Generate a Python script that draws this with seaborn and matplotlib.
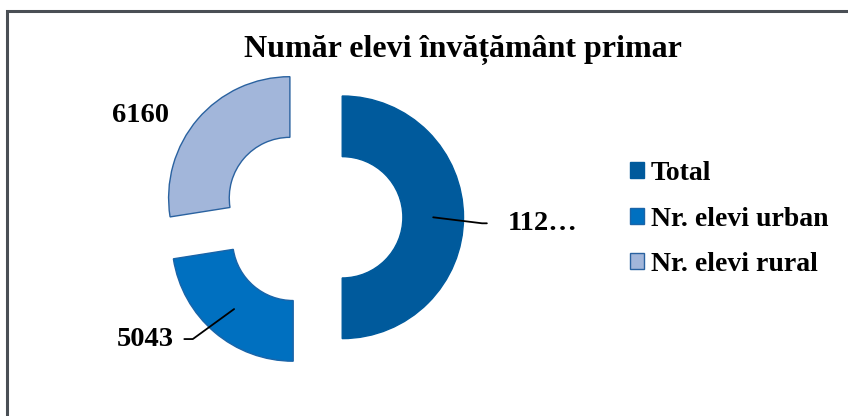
import numpy as np
import matplotlib
matplotlib.use("Agg")
import matplotlib.pyplot as plt
import seaborn as sns
from matplotlib.patches import Rectangle

# Data
categories = ["Total", "Nr. elevi urban", "Nr. elevi rural"]
values = [11203, 5043, 6160]
labels = ["112…", "5043", "6160"]
colors = ["#005A9C", "#0070C0", "#A2B6DA"]

sns.set_theme(style="white")
plt.rcParams["font.family"] = ["Liberation Serif", "DejaVu Serif"]
plt.rcParams["text.color"] = "black"

W, H = 848, 416
fig = plt.figure(figsize=(W / 100, H / 100), dpi=100)
fig.patch.set_facecolor("white")

# pie centre / radius in pixels (from top-left)
cx, cy, R = 312.5, 217.3, 121.3
ax = fig.add_axes([0, 0, 1, 1])
wedges, _ = ax.pie(values, startangle=90, counterclock=False, colors=colors,
                   explode=[0.245] * 3, radius=1,
                   wedgeprops=dict(width=0.5, linewidth=1.0))
wedges[0].set_edgecolor(colors[0])
wedges[1].set_edgecolor("#1A64A8")
wedges[2].set_edgecolor("#2A62A0")
ax.set_xlim(-cx / R, (W - cx) / R)
ax.set_ylim(-(H - cy) / R, cy / R)
ax.set_aspect("equal", adjustable="box")
ax.axis("off")

# data labels
def anchor(w):
    ang = np.deg2rad((w.theta1 + w.theta2) / 2)
    x0, y0 = w.center
    return x0 + 0.75 * w.r * np.cos(ang), y0 + 0.75 * w.r * np.sin(ang)

lab_font = dict(fontsize=20.5, fontweight="bold", color="black")
# Total
ax.annotate(labels[0], xy=anchor(wedges[0]), xytext=(75, -6), textcoords="offset pixels",
            ha="left", va="center", **lab_font,
            arrowprops=dict(arrowstyle="-", color="black", lw=1.3, shrinkA=13, shrinkB=0,
                            relpos=(0, 0.5),
                            connectionstyle="angle,angleA=0,angleB=-7,rad=0"))
# urban
ax.annotate(labels[1], xy=anchor(wedges[1]), xytext=(-60, -30), textcoords="offset pixels",
            ha="right", va="center", **lab_font,
            arrowprops=dict(arrowstyle="-", color="black", lw=1.3, shrinkA=5, shrinkB=0,
                            relpos=(1, 0.5),
                            connectionstyle="angle,angleA=0,angleB=36,rad=0"))
# rural
ax.annotate(labels[2], xy=anchor(wedges[2]), xytext=(-80, 23), textcoords="offset pixels",
            ha="center", va="center", **lab_font)

# legend
leg = fig.legend(wedges, categories, loc="center left", bbox_to_anchor=(630 / W, 1 - 219 / H),
                 frameon=False, borderpad=0, borderaxespad=0, handlelength=0.5,
                 handleheight=0.5, handletextpad=0.25, labelspacing=0.73,
                 prop=dict(family="Liberation Serif", weight="bold", size=20))
for t in leg.get_texts():
    t.set_color("black")

fig.text((247 + 678) / 2 / W, 1 - 57 / H, "Număr elevi învățământ primar",
         ha="center", va="baseline", fontsize=23, fontweight="bold", color="black")

# chart area border (extends past right and bottom edges)
fig.add_artist(Rectangle((7 / W, -0.1), 1.2, 1.1 - 11 / H, transform=fig.transFigure,
                         fill=False, edgecolor="#4A4F55", linewidth=2.2))

fig.savefig("out.png", dpi=100, facecolor="white")
